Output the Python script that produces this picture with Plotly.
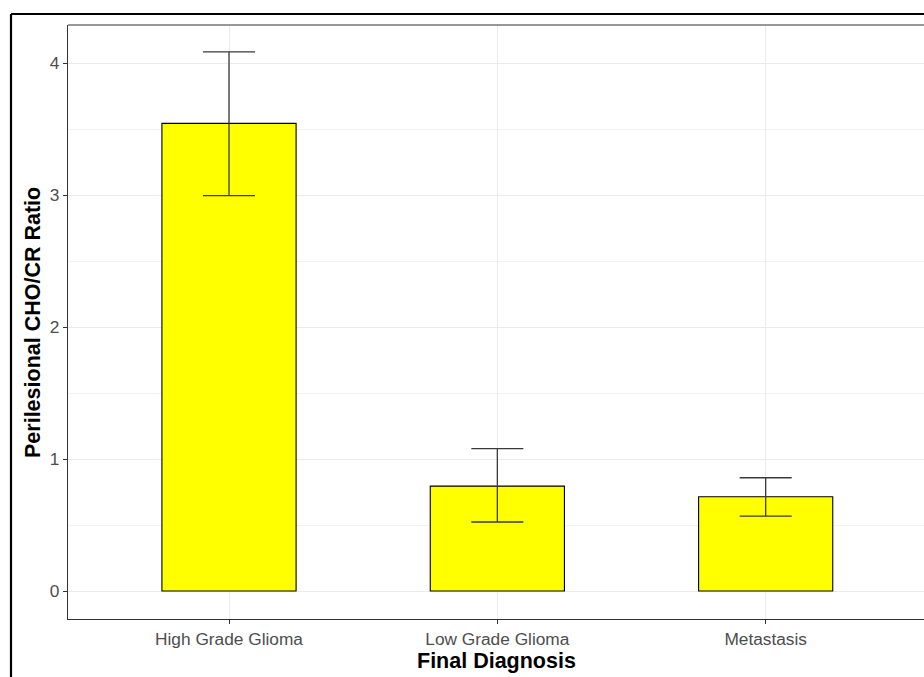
import plotly.graph_objects as go

categories = ["High Grade Glioma", "Low Grade Glioma", "Metastasis"]
means = [3.543, 0.795, 0.714]
upper = [4.085, 1.078, 0.858]
lower = [2.995, 0.523, 0.567]
y_ticks = [0, 1, 2, 3, 4]

err_plus = [u - m for u, m in zip(upper, means)]
err_minus = [m - l for m, l in zip(means, lower)]

fig = go.Figure()
fig.add_trace(go.Bar(
    x=list(range(len(categories))), y=means, width=0.5,
    marker=dict(color="#FFFF00", line=dict(color="black", width=1.1)),
    error_y=dict(type="data", symmetric=False, array=err_plus, arrayminus=err_minus,
                 color="#3a3a3a", thickness=1.3, width=26),
    showlegend=False,
))

W, H = 924, 677
ml, mt, mb, mr = 68, 25, 58, 0
pw = W - ml - mr
ph = H - mt - mb

def px(x):
    return (x - ml) / pw

def py(y):
    return (H - mb - y) / ph

shapes = [
    # panel top border
    dict(type="line", xref="paper", yref="paper", x0=0, x1=1.01, y0=1, y1=1,
         line=dict(color="#333333", width=1.2)),
    # outer frame
    dict(type="line", xref="paper", yref="paper", x0=px(11), x1=px(930), y0=py(14), y1=py(14),
         line=dict(color="black", width=2.2)),
    dict(type="line", xref="paper", yref="paper", x0=px(11), x1=px(11), y0=py(14), y1=py(690),
         line=dict(color="black", width=2.2)),
]

fig.update_layout(
    width=W, height=H,
    margin=dict(l=ml, r=mr, t=mt, b=mb),
    paper_bgcolor="white", plot_bgcolor="white",
    font=dict(family="Liberation Sans, Arial, sans-serif", color="#4D4D4D", size=15),
    shapes=shapes,
    xaxis=dict(
        range=[-0.6, 2.59], tickmode="array", tickvals=list(range(len(categories))),
        ticktext=categories, showgrid=True, gridcolor="#EBEBEB", gridwidth=1,
        showline=True, linecolor="#333333", linewidth=1.2,
        ticks="outside", ticklen=4, tickcolor="#333333", tickwidth=1.2,
        tickfont=dict(size=17.3, color="#4D4D4D"), zeroline=False,
    ),
    yaxis=dict(
        range=[-0.212, 4.288], tickmode="array", tickvals=y_ticks,
        ticktext=[str(t) for t in y_ticks], showgrid=True, gridcolor="#EBEBEB", gridwidth=1.2,
        minor=dict(dtick=0.5, tick0=0.5, showgrid=True, gridcolor="#F2F2F2", gridwidth=0.8),
        showline=True, linecolor="#333333", linewidth=1.2,
        ticks="outside", ticklen=4, tickcolor="#333333", tickwidth=1.2,
        tickfont=dict(size=17.3, color="#4D4D4D"), zeroline=False,
    ),
    annotations=[
        dict(text="<b>Final Diagnosis</b>", xref="paper", yref="paper",
             x=px(497), y=py(661), xanchor="center", yanchor="middle", showarrow=False,
             font=dict(size=21.5, color="black")),
        dict(text="<b>Perilesional CHO/CR Ratio</b>", xref="paper", yref="paper",
             x=px(33), y=py(323), xanchor="center", yanchor="middle", showarrow=False,
             textangle=-90, font=dict(size=21.5, color="black")),
    ],
)

fig.write_html("out.html")
